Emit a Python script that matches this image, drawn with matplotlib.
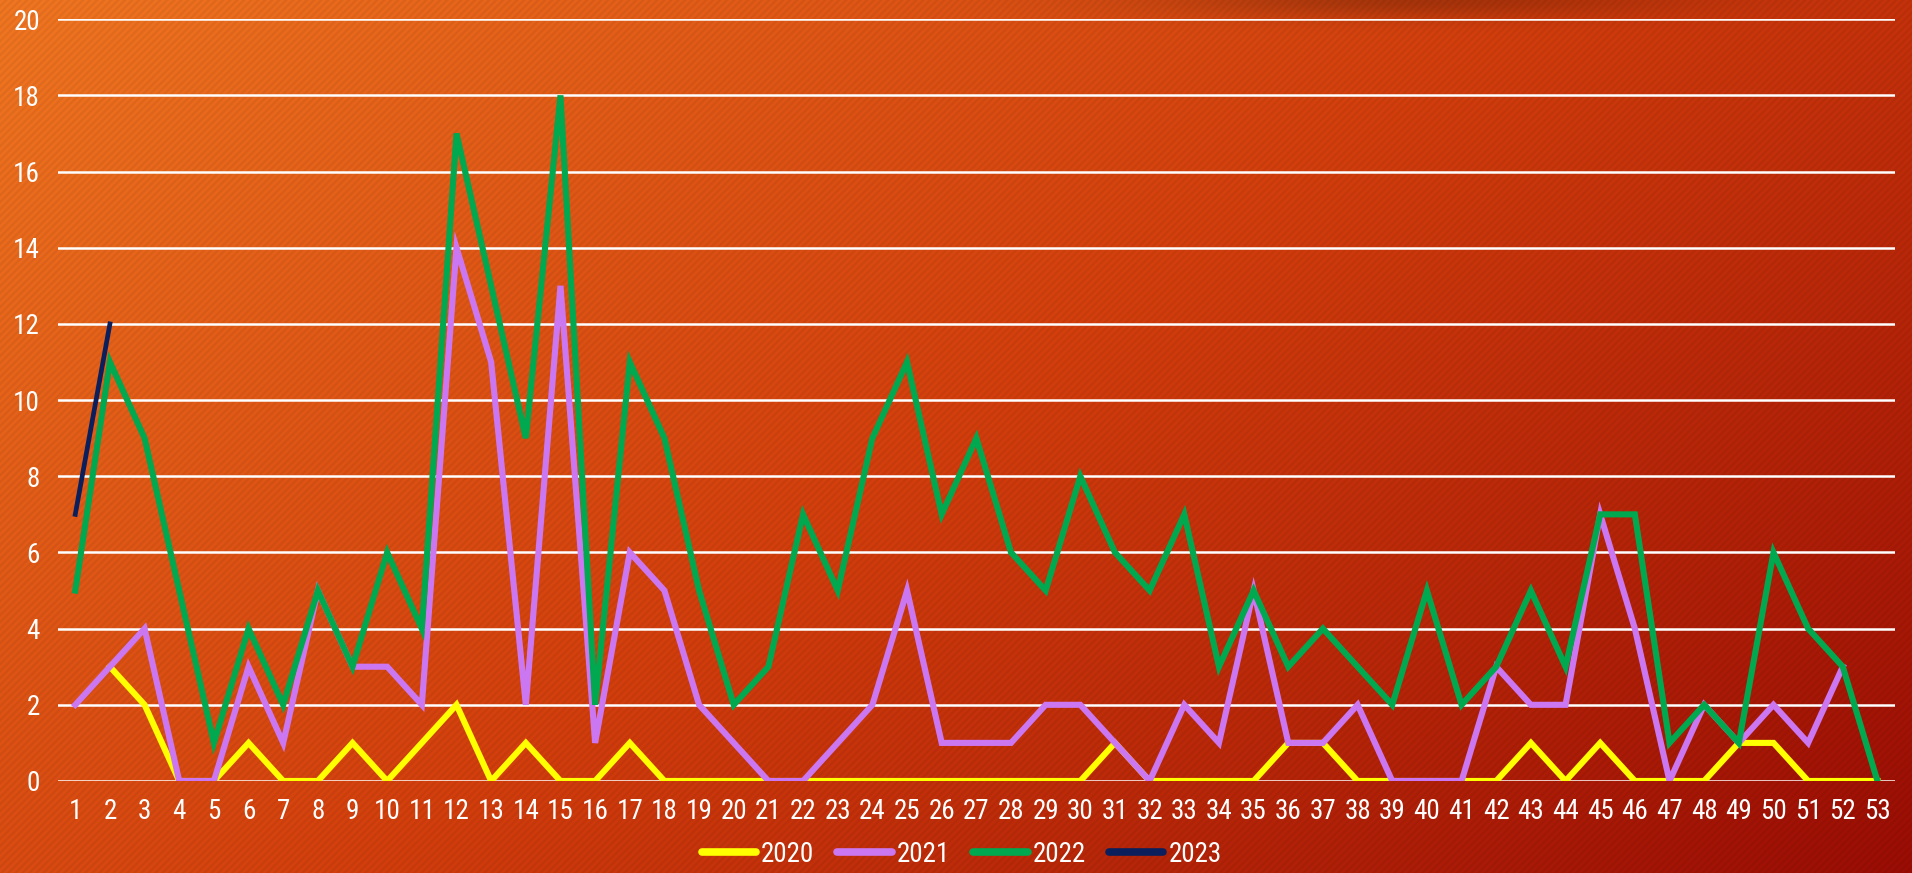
import numpy as np
import matplotlib.pyplot as plt
from matplotlib.lines import Line2D
from matplotlib import font_manager

weeks = list(range(1, 54))
nan = np.nan

y2020 = [nan, 3, 2, 0, 0, 1, 0, 0, 1, 0, 1, 2, 0, 1, 0, 0, 1, 0, 0, 0,
         0, 0, 0, 0, 0, 0, 0, 0, 0, 0, 1, 0, 0, 0, 0, 1, 1, 0, 0, 0,
         0, 0, 1, 0, 1, 0, 0, 0, 1, 1, 0, 0, 0]
y2021 = [2, 3, 4, 0, 0, 3, 1, 5, 3, 3, 2, 14, 11, 2, 13, 1, 6, 5, 2, 1,
         0, 0, 1, 2, 5, 1, 1, 1, 2, 2, 1, 0, 2, 1, 5, 1, 1, 2, 0, 0,
         0, 3, 2, 2, 7, 4, 0, 2, 1, 2, 1, 3, nan]
y2022 = [5, 11, 9, 5, 1, 4, 2, 5, 3, 6, 4, 17, 13, 9, 18, 2, 11, 9, 5, 2,
         3, 7, 5, 9, 11, 7, 9, 6, 5, 8, 6, 5, 7, 3, 5, 3, 4, 3, 2, 5,
         2, 3, 5, 3, 7, 7, 1, 2, 1, 6, 4, 3, 0]
y2023 = [7, 12] + [nan] * 51

series = [("2020", y2020, "#FFFF00", 4.4),
          ("2021", y2021, "#CC77F2", 4.4),
          ("2022", y2022, "#00A84F", 4.4),
          ("2023", y2023, "#0A1F5C", 3.4)]

# pick a narrow face if one is there
names = {f.name for f in font_manager.fontManager.ttflist}
fam = [n for n in ["Liberation Sans Narrow", "Roboto Condensed", "DejaVu Sans Condensed"] if n in names]
fam = fam + ["DejaVu Sans"]
font = font_manager.FontProperties(family=fam, stretch="condensed", size=19.5)

W, H = 1912, 873
fig = plt.figure(figsize=(W / 100, H / 100), dpi=100)

# background: diagonal orange -> dark red gradient with fine stripes
yy, xx = np.mgrid[0:H, 0:W].astype(float)
t = 0.62 * xx / W + 0.38 * yy / H
stops = np.array([0.0, 0.5, 1.0])
cols = np.array([[234, 115, 32], [205, 60, 12], [150, 12, 4]]) / 255.0
img = np.stack([np.interp(t, stops, cols[:, k]) for k in range(3)], axis=-1)
shadow = 1 - 0.22 * np.exp(-((xx - 1420) / 260) ** 2 - (yy / 18) ** 2)
stripes = 1 + 0.035 * np.sin(2 * np.pi * (xx + yy) / 7.0)
img = np.clip(img * (shadow * stripes)[..., None], 0, 1)
bg = fig.add_axes([0, 0, 1, 1], zorder=-1)
bg.imshow(img, aspect="auto", extent=[0, 1, 0, 1], interpolation="bilinear")
bg.axis("off")

ax = fig.add_axes([0.0303, 0.1054, 0.9607, 0.8726])
ax.patch.set_alpha(0)
for name, vals, c, lw in series:
    ax.plot(weeks, vals, color=c, lw=lw, solid_joinstyle="miter", label=name, zorder=3)

ax.set_xlim(0.5, 53.5)
ax.set_ylim(0, 20)
ax.set_yticks(range(0, 21, 2))
ax.set_xticks(weeks)
ax.grid(axis="y", color="white", lw=1.8, zorder=1)
ax.set_axisbelow(True)
for s in ax.spines.values():
    s.set_visible(False)
ax.tick_params(length=0, colors="white")
ax.tick_params(axis="x", pad=12)
ax.tick_params(axis="y", pad=13)
for lab in ax.get_xticklabels() + ax.get_yticklabels():
    lab.set_fontproperties(font)

handles = [Line2D([], [], color=c, lw=5.5, solid_capstyle="round") for _, _, c, _ in series]
leg = fig.legend(handles, [s[0] for s in series], loc="lower center",
                 bbox_to_anchor=(0.503, -0.022), ncol=4, frameon=False,
                 handlelength=2.0, handletextpad=0.2, columnspacing=0.85,
                 prop=font)
for txt in leg.get_texts():
    txt.set_color("white")

plt.savefig("out.png", dpi=100)
